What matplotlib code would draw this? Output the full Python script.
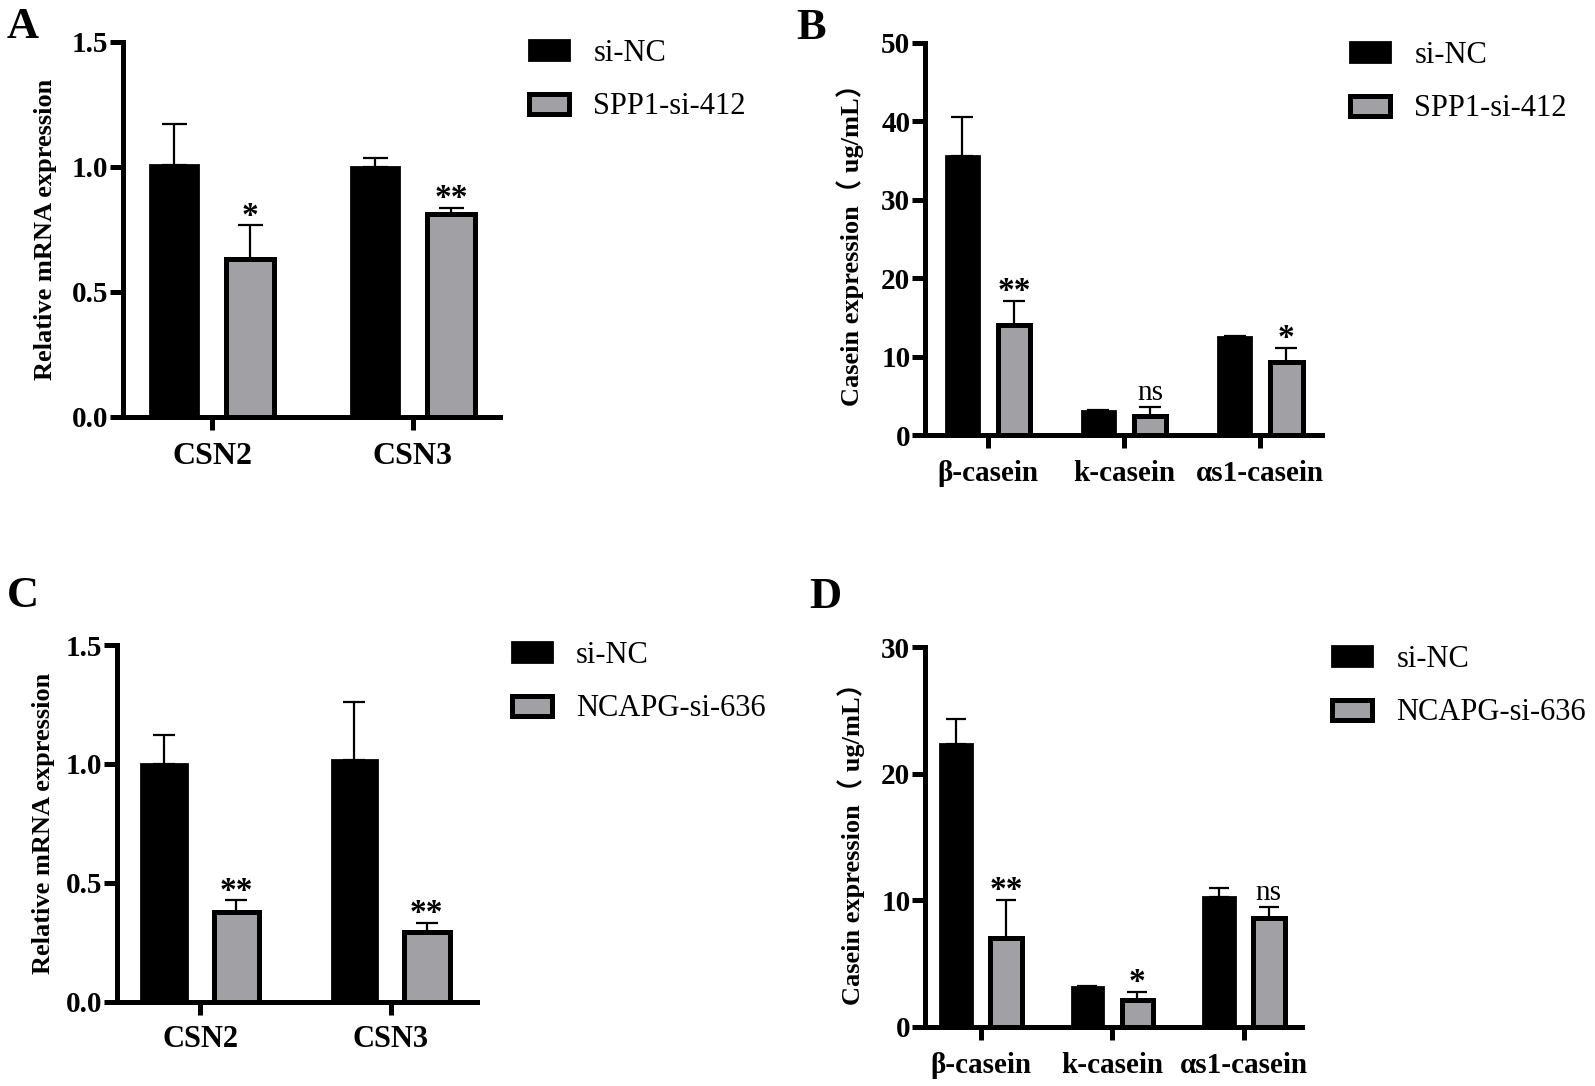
import matplotlib
matplotlib.use('Agg')
import matplotlib.pyplot as plt
import numpy as np

plt.rcParams['font.family'] = ['Liberation Serif', 'Noto Sans CJK SC', 'DejaVu Sans']

# ---------------- data ----------------
a_cats = ['CSN2', 'CSN3']
a_groups = ['si-NC', 'SPP1-si-412']
a_nc = [1.007, 0.999]
a_nc_err = [0.163, 0.036]
a_si = [0.63, 0.81]
a_si_err = [0.136, 0.025]
a_sig = ['*', '**']

b_cats = ['β-casein', 'k-casein', 'αs1-casein']
b_groups = ['si-NC', 'SPP1-si-412']
b_nc = [35.6, 3.06, 12.45]
b_nc_err = [4.9, 0.13, 0.2]
b_si = [14.0, 2.42, 9.35]
b_si_err = [3.1, 1.1, 1.8]
b_sig = ['**', 'ns', '*']

c_cats = ['CSN2', 'CSN3']
c_groups = ['si-NC', 'NCAPG-si-636']
c_nc = [1.0, 1.016]
c_nc_err = [0.122, 0.246]
c_si = [0.376, 0.292]
c_si_err = [0.05, 0.04]
c_sig = ['**', '**']

d_cats = ['β-casein', 'k-casein', 'αs1-casein']
d_groups = ['si-NC', 'NCAPG-si-636']
d_nc = [22.36, 3.14, 10.24]
d_nc_err = [2.0, 0.07, 0.7]
d_si = [7.04, 2.11, 8.58]
d_si_err = [3.0, 0.63, 0.92]
d_sig = ['**', '*', 'ns']

GRAY = '#a1a1a5'
W, H = 1595, 1086
fig = plt.figure(figsize=(W / 100, H / 100), dpi=100)


def px_rect(l, r, b, t):
    return [l / W, 1 - b / H, (r - l) / W, (b - t) / H]


def panel(rect, cats, groups, nc, nc_err, si, si_err, sig, ylim, yticks, yticklabels,
          ylabel, xlim, ylabel_x, leg_xy, letter, letter_xy, cat_fs, capsize, xpad):
    ax = fig.add_axes(rect)
    x = np.arange(len(cats))
    bw = 0.24
    off = 0.19
    b1 = ax.bar(x - off, nc, bw, color='black', edgecolor='black', linewidth=2, zorder=3,
                label=groups[0])
    b2 = ax.bar(x + off, si, bw, color=GRAY, edgecolor='black', linewidth=3.6, zorder=3,
                label=groups[1])
    ax.errorbar(x - off, nc, yerr=[np.zeros(len(nc)), nc_err], fmt='none', ecolor='black',
                elinewidth=1.6, capsize=capsize, capthick=1.6, zorder=2)
    ax.errorbar(x + off, si, yerr=[np.zeros(len(si)), si_err], fmt='none', ecolor='black',
                elinewidth=1.6, capsize=capsize, capthick=1.6, zorder=2)
    for xi, v, e, s in zip(x + off, si, si_err, sig):
        if s == 'ns':
            ax.annotate(s, xy=(xi, v + e), xytext=(0, 5), textcoords='offset points',
                        ha='center', va='baseline', fontsize=21)
        else:
            ax.annotate(s, xy=(xi, v + e), xytext=(0, 0.5), textcoords='offset points',
                        ha='center', va='baseline', fontsize=24, fontweight='bold')
    ax.set_xlim(*xlim)
    ax.set_ylim(*ylim)
    ax.set_yticks(yticks)
    ax.set_yticklabels(yticklabels, fontsize=21, fontweight='bold')
    ax.set_xticks(x)
    ax.set_xticklabels(cats, fontsize=cat_fs, fontweight='bold')
    for sp in ['top', 'right']:
        ax.spines[sp].set_visible(False)
    for sp in ['left', 'bottom']:
        ax.spines[sp].set_linewidth(3.6)
    ax.tick_params(axis='y', length=9.5, width=3.6, pad=1, direction='out')
    ax.tick_params(axis='x', length=9, width=3.6, pad=xpad, direction='out')
    ax.set_ylabel(ylabel, fontsize=19, fontweight='bold')
    ax.yaxis.set_label_coords(ylabel_x, 0.5)
    ax.legend(handles=[b1, b2], labels=groups, loc='upper left', bbox_to_anchor=leg_xy,
              bbox_transform=fig.transFigure, frameon=False, fontsize=22,
              handlelength=1.31, handleheight=0.62, handletextpad=0.8,
              labelspacing=0.8, borderpad=0, borderaxespad=0)
    fig.text(letter_xy[0] / W, 1 - letter_xy[1] / H, letter, fontsize=32,
             fontweight='bold', ha='left', va='center')
    return ax


panel(px_rect(123, 500, 416.7, 41.7), a_cats, a_groups, a_nc, a_nc_err, a_si, a_si_err, a_sig,
      (0, 1.5), [0, 0.5, 1.0, 1.5], ['0.0', '0.5', '1.0', '1.5'],
      'Relative mRNA expression', (-0.443, 1.433), -0.175, (529 / W, 1 - 39 / H),
      'A', (7, 27), 23, 9, 9)

panel(px_rect(925, 1321.7, 435, 42.7), b_cats, b_groups, b_nc, b_nc_err, b_si, b_si_err, b_sig,
      (0, 50), [0, 10, 20, 30, 40, 50], ['0', '10', '20', '30', '40', '50'],
      'Casein expression（ ug/mL）', (-0.463, 2.45), -0.155, (1350 / W, 1 - 41 / H),
      'B', (796, 28), 21, 8, 9)

panel(px_rect(116.7, 476.7, 1001.7, 645), c_cats, c_groups, c_nc, c_nc_err, c_si, c_si_err, c_sig,
      (0, 1.5), [0, 0.5, 1.0, 1.5], ['0.0', '0.5', '1.0', '1.5'],
      'Relative mRNA expression', (-0.439, 1.452), -0.17, (511.7 / W, 1 - 641 / H),
      'C', (7, 596), 22, 8, 8)

panel(px_rect(925, 1301.7, 1026.7, 647.3), d_cats, d_groups, d_nc, d_nc_err, d_si, d_si_err, d_sig,
      (0, 30), [0, 10, 20, 30], ['0', '10', '20', '30'],
      'Casein expression（ ug/mL）', (-0.426, 2.44), -0.16, (1332 / W, 1 - 645 / H),
      'D', (809, 597), 21, 7.5, 9)

fig.savefig('out.png', dpi=100)
